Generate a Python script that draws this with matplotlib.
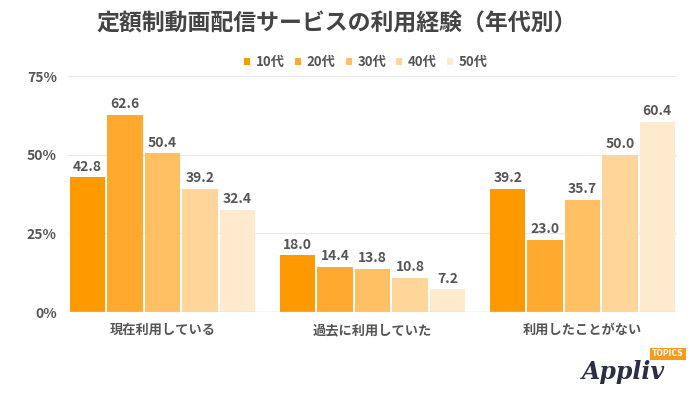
import matplotlib.pyplot as plt
import numpy as np

plt.rcParams['font.family'] = ['Noto Sans CJK JP', 'DejaVu Sans']

categories = ["現在利用している", "過去に利用していた", "利用したことがない"]
ages = ["10代", "20代", "30代", "40代", "50代"]
values = {
    "10代": [42.8, 18.0, 39.2],
    "20代": [62.6, 14.4, 23.0],
    "30代": [50.4, 13.8, 35.7],
    "40代": [39.2, 10.8, 50.0],
    "50代": [32.4, 7.2, 60.4],
}
colors = ["#FF9900", "#FFAA2E", "#FFBF63", "#FFD599", "#FFEACD"]
yticks = [0, 25, 50, 75]

grey = "#555555"

fig = plt.figure(figsize=(7, 3.94), dpi=100)
ax = fig.add_axes([68 / 700, 1 - 312 / 394, 609 / 700, 236 / 394])

x = np.arange(len(categories))
step = 0.178
width = 0.168
for i, age in enumerate(ages):
    pos = x + (i - 2) * step
    bars = ax.bar(pos, values[age], width, color=colors[i], zorder=3, label=age)
    for p, v in zip(pos, values[age]):
        ax.text(p, v + 1.2, f"{v:.1f}", ha="center", va="bottom",
                fontsize=10, fontweight="bold", color=grey)

ax.set_xlim(-0.45, 2.45)
ax.set_ylim(0, 75)
ax.set_yticks(yticks)
ax.set_yticklabels([f"{t}%" for t in yticks])
ax.set_xticks(x)
ax.set_xticklabels(categories)
ax.grid(axis="y", color="#e8e8e8", linewidth=0.8, zorder=0)
ax.axhline(0, color="#d8d8d8", linewidth=1, zorder=4)
for s in ax.spines.values():
    s.set_visible(False)
ax.tick_params(length=0, pad=8)
for lab in ax.get_yticklabels() + ax.get_xticklabels():
    lab.set_fontweight("bold")
    lab.set_color(grey)
    lab.set_fontsize(9.5)
for lab in ax.get_yticklabels():
    lab.set_fontsize(10)

fig.text(337 / 700, 1 - 24 / 394, "定額制動画配信サービスの利用経験（年代別）",
         ha="center", va="center", fontsize=16.5, fontweight="bold", color="#444444")

leg = fig.legend(*ax.get_legend_handles_labels(), loc="center",
                 bbox_to_anchor=(366 / 700, 1 - 62 / 394), ncol=5, frameon=False,
                 handlelength=0.45, handleheight=0.45, handletextpad=0.45,
                 columnspacing=0.75, prop={"weight": "bold", "size": 9.5})
for t in leg.get_texts():
    t.set_color(grey)

# logo
fig.text(623 / 700, 1 - 372 / 394, "Appliv", ha="center", va="center",
         fontsize=17, fontstyle="italic", fontweight="bold", family="DejaVu Serif",
         color="#2a2f45")
fig.text(668 / 700, 1 - 354 / 394, "TOPICS", ha="center", va="center",
         fontsize=5.5, fontweight="bold", color="white", family="DejaVu Sans",
         bbox=dict(boxstyle="square,pad=0.25", fc="#F79A1E", ec="none"))

fig.savefig("out.png", dpi=100)
